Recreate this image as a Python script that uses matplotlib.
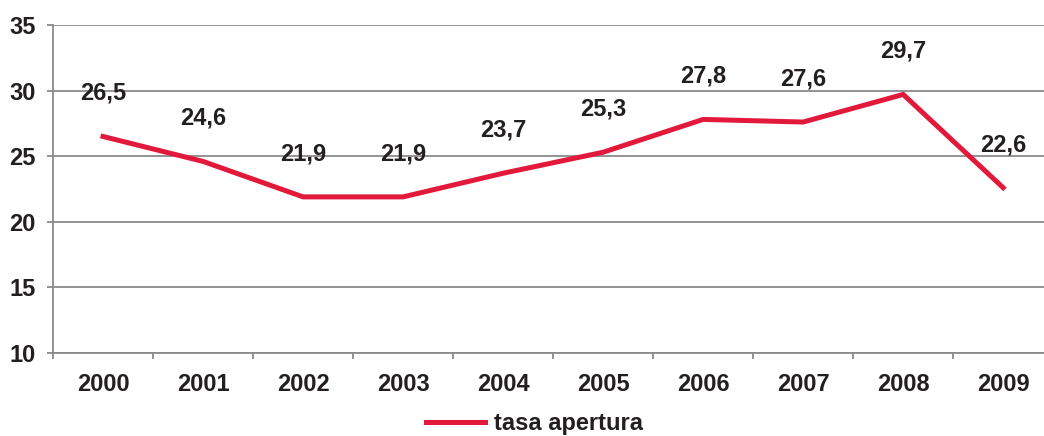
import matplotlib.pyplot as plt
from matplotlib.ticker import FixedLocator

plt.rcParams['font.family'] = ['Liberation Sans', 'DejaVu Sans']
plt.rcParams['font.weight'] = 'bold'

years = ["2000", "2001", "2002", "2003", "2004", "2005", "2006", "2007", "2008", "2009"]
tasa_apertura = [26.5, 24.6, 21.9, 21.9, 23.7, 25.3, 27.8, 27.6, 29.7, 22.6]
value_labels = ["26,5", "24,6", "21,9", "21,9", "23,7", "25,3", "27,8", "27,6", "29,7", "22,6"]
y_ticks = [10, 15, 20, 25, 30, 35]

LINE_COLOR = "#E3193B"
GRID_COLOR = "#8a8a8a"
TEXT_COLOR = "#231f20"
FS = 17

fig = plt.figure(figsize=(10.44, 4.36), dpi=100)
# axes run slightly past the right edge of the figure, as in the original
ax = fig.add_axes([0.0508, 0.19, 0.958, 0.753])

x = list(range(len(years)))
ax.plot(x, tasa_apertura, color=LINE_COLOR, linewidth=3.6, solid_joinstyle="miter",
        label="tasa apertura", zorder=3)

for xi, v, lab in zip(x, tasa_apertura, value_labels):
    ax.annotate(lab, (xi, v), xytext=(0, 31), textcoords="offset points",
                ha="center", va="center", fontsize=FS, fontweight="bold", color=TEXT_COLOR)

ax.set_xlim(-0.5, len(years) - 0.5)
ax.set_ylim(10, 35)
ax.set_yticks(y_ticks)
ax.set_xticks(x)
ax.set_xticklabels(years)
ax.xaxis.set_minor_locator(FixedLocator([i - 0.5 for i in range(len(years) + 1)]))

ax.grid(axis="y", color=GRID_COLOR, linewidth=1.3)
ax.set_axisbelow(True)

for side in ["top", "right"]:
    ax.spines[side].set_visible(False)
for side in ["left", "bottom"]:
    ax.spines[side].set_color(GRID_COLOR)
    ax.spines[side].set_linewidth(1.3)

ax.tick_params(axis="x", which="major", length=0, pad=14, labelsize=FS, labelcolor=TEXT_COLOR)
ax.tick_params(axis="x", which="minor", length=4.5, width=1.3, color=GRID_COLOR)
ax.tick_params(axis="y", length=4.5, width=1.3, color=GRID_COLOR, pad=8,
               labelsize=FS, labelcolor=TEXT_COLOR)
for lab in ax.get_xticklabels() + ax.get_yticklabels():
    lab.set_fontweight("bold")

fig.legend(loc="center", bbox_to_anchor=(0.512, 0.028), frameon=False,
           prop={"size": FS, "weight": "bold"}, handlelength=2.5, handletextpad=0.35,
           labelcolor=TEXT_COLOR)

fig.savefig("out.png", dpi=100)
